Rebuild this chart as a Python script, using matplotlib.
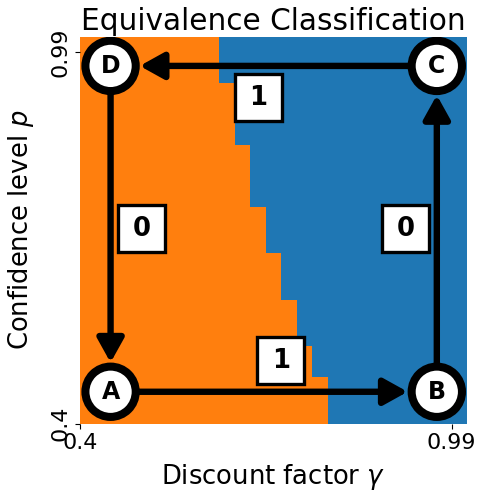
import numpy as np
import matplotlib
matplotlib.use("Agg")
import matplotlib.pyplot as plt
from matplotlib.colors import ListedColormap
from matplotlib.patches import Circle, Rectangle

# grid of discount factors / confidence levels
gammas = np.linspace(0.4, 0.99, 25)
ps = np.linspace(0.4, 0.99, 25)

# first gamma index classified as "blue" for each p (bottom row first)
boundary = [16, 16, 16, 15, 15, 14, 14, 14, 13, 13, 13, 12, 12, 12,
            11, 11, 11, 11, 10, 10, 10, 10, 9, 9, 9]

nodes = ["A", "B", "C", "D"]
node_pos = [(0.079, 0.082), (0.922, 0.082), (0.922, 0.924), (0.079, 0.924)]
edges = [("A", "B", "1"), ("B", "C", "0"), ("C", "D", "1"), ("D", "A", "0")]
edge_label_pos = [(0.519, 0.162), (0.841, 0.503), (0.461, 0.842), (0.160, 0.503)]

classes = np.array([[0 if j < b else 1 for j in range(len(gammas))] for b in boundary])

step = gammas[1] - gammas[0]
xe = np.append(gammas, gammas[-1] + step)
ye = np.append(ps, ps[-1] + step)

fig = plt.figure(figsize=(4.8, 4.94), dpi=100)
ax = fig.add_axes([80 / 480, 1 - 423.5 / 494, 387 / 480, 387 / 494])

cmap = ListedColormap(["#ff7f0e", "#1f77b4"])
ax.pcolormesh(xe, ye, classes, cmap=cmap, vmin=0, vmax=1)
ax.set_xlim(xe[0], xe[-1])
ax.set_ylim(ye[0], ye[-1])
for s in ax.spines.values():
    s.set_visible(False)

ax.set_xticks([0.4, 0.99])
ax.set_xticklabels(["0.4", "0.99"], fontsize=16)
ax.set_yticks([0.4, 0.99])
ax.set_yticklabels(["0.4", "0.99"], fontsize=16, rotation=90, va="center")
ax.set_xlabel(r"Discount factor $\gamma$", fontsize=18.6, labelpad=6)
ax.set_ylabel(r"Confidence level $p$", fontsize=18.6, labelpad=10)
ax.set_title("Equivalence Classification", fontsize=21.3, pad=3)

box = 47 / 387
pos = dict(zip(nodes, node_pos))
for (a, b, lab), lp in zip(edges, edge_label_pos):
    ax.annotate("", xy=pos[b], xytext=pos[a], xycoords="axes fraction",
                arrowprops=dict(arrowstyle="-|>,head_length=0.45,head_width=0.25",
                                mutation_scale=32, lw=4.6, color="k",
                                shrinkA=20, shrinkB=21), zorder=4)
    ax.add_patch(Rectangle((lp[0] - box / 2, lp[1] - box / 2), box, box,
                           transform=ax.transAxes, fc="white", ec="k", lw=2.4, zorder=6))
    ax.text(lp[0], lp[1], lab, transform=ax.transAxes, fontsize=18.6,
            fontweight="bold", ha="center", va="center", zorder=7)

for n, (x, y) in zip(nodes, node_pos):
    ax.add_patch(Circle((x, y), 0.065, transform=ax.transAxes, fc="white",
                        ec="k", lw=5.8, zorder=5))
    ax.text(x, y, n, transform=ax.transAxes, fontsize=17, fontweight="bold",
            ha="center", va="center", zorder=6)

fig.savefig("out.png", dpi=100)
